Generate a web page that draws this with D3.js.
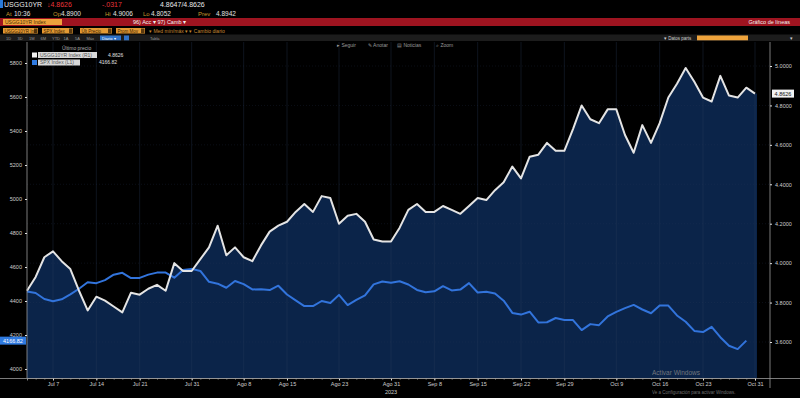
<!DOCTYPE html>
<html>
<head>
<meta charset="utf-8">
<script src="https://cdn.jsdelivr.net/npm/d3@7"></script>
<style>
  html, body { margin: 0; padding: 0; background: #000; }
  svg { display: block; font-family: "Liberation Sans", Arial, sans-serif; }
</style>
</head>
<body>
<div id="chart"></div>
<script>
// trading days, Jul 3 - Oct 31 2023
var dates = [
  "2023-07-03","2023-07-05","2023-07-06","2023-07-07","2023-07-10","2023-07-11","2023-07-12","2023-07-13","2023-07-14",
  "2023-07-17","2023-07-18","2023-07-19","2023-07-20","2023-07-21","2023-07-24","2023-07-25","2023-07-26","2023-07-27",
  "2023-07-28","2023-07-31",
  "2023-08-01","2023-08-02","2023-08-03","2023-08-04","2023-08-07","2023-08-08","2023-08-09","2023-08-10","2023-08-11",
  "2023-08-14","2023-08-15","2023-08-16","2023-08-17","2023-08-18","2023-08-21","2023-08-22","2023-08-23","2023-08-24",
  "2023-08-25","2023-08-28","2023-08-29","2023-08-30","2023-08-31",
  "2023-09-01","2023-09-05","2023-09-06","2023-09-07","2023-09-08","2023-09-11","2023-09-12","2023-09-13","2023-09-14",
  "2023-09-15","2023-09-18","2023-09-19","2023-09-20","2023-09-21","2023-09-22","2023-09-25","2023-09-26","2023-09-27",
  "2023-09-28","2023-09-29",
  "2023-10-02","2023-10-03","2023-10-04","2023-10-05","2023-10-06","2023-10-09","2023-10-10","2023-10-11","2023-10-12",
  "2023-10-13","2023-10-16","2023-10-17","2023-10-18","2023-10-19","2023-10-20","2023-10-23","2023-10-24","2023-10-25",
  "2023-10-26","2023-10-27","2023-10-30","2023-10-31"
];

// USGG10YR Index (right axis)
var yld = [
  3.86, 3.93, 4.03, 4.06, 4.01, 3.97, 3.86, 3.76, 3.83, 3.81, 3.78, 3.75, 3.85, 3.84, 3.87, 3.89, 3.86, 4.00, 3.96, 3.96,
  4.02, 4.08, 4.19, 4.04, 4.08, 4.03, 4.01, 4.09, 4.16, 4.19, 4.21, 4.26, 4.30, 4.26, 4.34, 4.33, 4.20, 4.24, 4.25, 4.21, 4.12, 4.11, 4.11,
  4.18, 4.27, 4.30, 4.26, 4.26, 4.29, 4.27, 4.25, 4.29, 4.33, 4.32, 4.37, 4.41, 4.49, 4.43, 4.54, 4.55, 4.61, 4.57, 4.57,
  4.68, 4.80, 4.73, 4.71, 4.78, 4.78, 4.65, 4.56, 4.70, 4.61, 4.71, 4.84, 4.91, 4.99, 4.92, 4.84, 4.82, 4.95, 4.85, 4.84, 4.89, 4.86
];

// SPX Index (left axis), no value yet for the last day
var spx = [
  4456, 4447, 4412, 4399, 4410, 4439, 4472, 4510, 4505, 4523, 4555, 4566, 4535, 4536, 4555, 4567, 4567, 4537, 4582, 4589,
  4577, 4513, 4502, 4478, 4518, 4499, 4468, 4469, 4464, 4490, 4438, 4404, 4370, 4370, 4400, 4388, 4436, 4376, 4406, 4433, 4498, 4515, 4508,
  4516, 4497, 4465, 4451, 4457, 4487, 4462, 4467, 4505, 4450, 4454, 4444, 4402, 4330, 4320, 4337, 4274, 4275, 4300, 4288,
  4288, 4229, 4264, 4258, 4309, 4336, 4358, 4377, 4350, 4328, 4374, 4373, 4315, 4278, 4224, 4217, 4248, 4187, 4137, 4117, 4167
];

var tickDates = ["2023-07-07","2023-07-14","2023-07-21","2023-07-31","2023-08-08","2023-08-15","2023-08-23","2023-08-31",
  "2023-09-08","2023-09-15","2023-09-22","2023-09-29","2023-10-09","2023-10-16","2023-10-23","2023-10-31"];
var tickLabels = ["Jul 7","Jul 14","Jul 21","Jul 31","Ago 8","Ago 15","Ago 23","Ago 31",
  "Sep 8","Sep 15","Sep 22","Sep 29","Oct 9","Oct 16","Oct 23","Oct 31"];
var rightTicks = [3.6, 3.8, 4.0, 4.2, 4.4, 4.6, 4.8, 5.0];
var leftTicks = [4000, 4200, 4400, 4600, 4800, 5000, 5200, 5400, 5600, 5800];

var W = 800, H = 398;
var plotTop = 42, plotBottom = 378, plotLeft = 27, plotRight = 757, rAxisX = 770;

var svg = d3.select('#chart').append('svg')
  .attr('width', W).attr('height', H);
svg.append('rect').attr('width', W).attr('height', H).attr('fill', '#000');

var x = d3.scalePoint().domain(dates).range([27, 755]);
var yR = d3.scaleLinear().domain([3.6, 5.0]).range([342, 66]);
var yL = d3.scaleLinear().domain([4000, 5800]).range([369, 63]);

// ---------- header ----------
var hdr = svg.append('g').attr('font-size', 7);
hdr.append('rect').attr('x', 0).attr('y', 0).attr('width', 3).attr('height', 8).attr('fill', '#2a7ad8');
hdr.append('text').attr('x', 4).attr('y', 7).attr('fill', '#e8e8e8').text('USGG10YR');
hdr.append('text').attr('x', 47).attr('y', 7).attr('fill', '#e8343a').text('↓4.8626');
hdr.append('text').attr('x', 102).attr('y', 7).attr('fill', '#e8343a').text('-.0317');
hdr.append('text').attr('x', 160).attr('y', 7).attr('fill', '#e8e8e8').text('4.8647/4.8626');

var row2 = [["At", 6, "10:36", 14], ["Op", 53, "4.8900", 61], ["Hi", 105, "4.9006", 113], ["Lo", 143, "4.8052", 151], ["Prev", 198, "4.8942", 216]];
row2.forEach(function(r) {
  hdr.append('text').attr('x', r[1]).attr('y', 15.5).attr('font-size', 6).attr('fill', '#c8962c').text(r[0]);
  hdr.append('text').attr('x', r[3]).attr('y', 15.5).attr('font-size', 6.5).attr('fill', '#e0e0e0').text(r[2]);
});

hdr.append('rect').attr('x', 0).attr('y', 18).attr('width', W).attr('height', 8).attr('fill', '#9e1420');
hdr.append('rect').attr('x', 3).attr('y', 19).attr('width', 59).attr('height', 6).attr('fill', '#eea33c');
hdr.append('text').attr('x', 5).attr('y', 24).attr('font-size', 5).attr('fill', '#4a2a00').text('USGG10YR Index');
hdr.append('text').attr('x', 133).attr('y', 24).attr('font-size', 5.5).attr('fill', '#f2f2f2').text('96) Acc ▾   97) Camb ▾');
hdr.append('text').attr('x', 790).attr('y', 24).attr('font-size', 5.5).attr('fill', '#f2f2f2')
  .attr('text-anchor', 'end').text('Gráfico de líneas');

var boxes = [[3, 35, "USGG10YR Ind"], [42, 31, "SPX Index"], [80, 32, "Últ Precio"], [116, 29, "Prom Mov"]];
boxes.forEach(function(b) {
  hdr.append('rect').attr('x', b[0]).attr('y', 28).attr('width', b[1]).attr('height', 5.5).attr('fill', '#e49a34');
  hdr.append('rect').attr('x', b[0] + b[1] - 4).attr('y', 28.5).attr('width', 3.5).attr('height', 4.5).attr('fill', '#5a3a10');
  hdr.append('text').attr('x', b[0] + 1.5).attr('y', 32.6).attr('font-size', 4.5).attr('fill', '#3a2000').text(b[2]);
});
hdr.append('text').attr('x', 149).attr('y', 32.6).attr('font-size', 5).attr('fill', '#c88a34').text('▾ Med mín/máx ▾   ▾ Cambio diario');

hdr.append('rect').attr('x', 0).attr('y', 34.5).attr('width', W).attr('height', 6.5).attr('fill', '#1c1c1c');
var btns = ["1D", "3D", "1M", "6M", "YTD", "1A", "5A", "Máx"];
btns.forEach(function(t, i) {
  hdr.append('text').attr('x', 6 + i * 11.5).attr('y', 39.6).attr('font-size', 4).attr('fill', '#9a9a9a').text(t);
});
hdr.append('rect').attr('x', 100).attr('y', 35.5).attr('width', 21).attr('height', 4.8).attr('fill', '#2f72c8');
hdr.append('text').attr('x', 102).attr('y', 39.6).attr('font-size', 4).attr('fill', '#fff').text('Diario ▾');
hdr.append('rect').attr('x', 124).attr('y', 35.5).attr('width', 5).attr('height', 4.8).attr('fill', '#2f72c8');
hdr.append('text').attr('x', 150).attr('y', 39.6).attr('font-size', 4).attr('fill', '#9a9a9a').text('Tabla');
hdr.append('text').attr('x', 664).attr('y', 39.6).attr('font-size', 4.5).attr('fill', '#cfcfcf').text('▾ Datos parts');
hdr.append('rect').attr('x', 697).attr('y', 35.5).attr('width', 51).attr('height', 4.8).attr('fill', '#eea33c');
hdr.append('text').attr('x', 790).attr('y', 39.6).attr('font-size', 4.5).attr('fill', '#cfcfcf').text('▾');

// ---------- plot ----------
var plot = svg.append('g');

// filled area under the yield line
var area = d3.area()
  .x(function(d, i) { return x(dates[i]); })
  .y0(plotBottom)
  .y1(function(d) { return yR(d); });
plot.append('path').datum(yld).attr('d', area).attr('fill', '#0b2449');
plot.append('rect').attr('x', 755).attr('y', yR(yld[yld.length - 1])).attr('width', 2)
  .attr('height', plotBottom - yR(yld[yld.length - 1])).attr('fill', '#0b2449');

// grid
plot.selectAll('.vgrid').data(tickDates).enter().append('line')
  .attr('x1', function(d) { return x(d); }).attr('x2', function(d) { return x(d); })
  .attr('y1', plotTop).attr('y2', plotBottom)
  .attr('stroke', '#2a3c5c').attr('stroke-opacity', 0.55).attr('stroke-width', 0.6);
plot.selectAll('.hgrid').data(rightTicks).enter().append('line')
  .attr('x1', plotLeft).attr('x2', rAxisX)
  .attr('y1', function(d) { return yR(d); }).attr('y2', function(d) { return yR(d); })
  .attr('stroke', '#2a3c5c').attr('stroke-opacity', 0.5).attr('stroke-width', 0.5)
  .attr('stroke-dasharray', '1,2');

// lines
var lineR = d3.line().x(function(d, i) { return x(dates[i]); }).y(function(d) { return yR(d); });
var lineL = d3.line().x(function(d, i) { return x(dates[i]); }).y(function(d) { return yL(d); });
plot.append('path').datum(spx).attr('d', lineL).attr('fill', 'none')
  .attr('stroke', '#3274dc').attr('stroke-width', 2).attr('stroke-linejoin', 'round');
plot.append('path').datum(yld).attr('d', lineR).attr('fill', 'none')
  .attr('stroke', '#e4e4e4').attr('stroke-width', 2).attr('stroke-linejoin', 'round');

// ---------- axes ----------
function styleAxis(g) {
  g.select('.domain').attr('stroke', '#9a9a9a').attr('stroke-width', 0.8);
  g.selectAll('.tick line').attr('stroke', '#e0e0e0');
  g.selectAll('.tick text').attr('fill', '#cfcfcf').attr('font-size', 5.5)
    .attr('font-family', '"Liberation Sans", Arial, sans-serif');
}

var xAxisMinor = svg.append('g').attr('transform', 'translate(0,' + plotBottom + ')')
  .call(d3.axisBottom(x).tickValues(dates).tickSize(1.5).tickFormat(''));
xAxisMinor.select('.domain').remove();
xAxisMinor.selectAll('.tick line').attr('stroke', '#8a8a8a');

var xAxis = svg.append('g').attr('transform', 'translate(0,' + plotBottom + ')')
  .call(d3.axisBottom(x).tickValues(tickDates).tickSize(2.5).tickPadding(2)
    .tickFormat(function(d) { return tickLabels[tickDates.indexOf(d)]; }));
styleAxis(xAxis);
svg.append('line').attr('x1', 0).attr('x2', 800).attr('y1', plotBottom + 0.5).attr('y2', plotBottom + 0.5)
  .attr('stroke', '#9a9a9a').attr('stroke-width', 0.8);
svg.append('text').attr('x', x("2023-08-31")).attr('y', 394).attr('text-anchor', 'middle')
  .attr('font-size', 5.5).attr('fill', '#cfcfcf').text('2023');

var lAxis = svg.append('g').attr('transform', 'translate(' + plotLeft + ',0)')
  .call(d3.axisLeft(yL).tickValues(leftTicks).tickSize(2).tickPadding(3).tickFormat(d3.format('d')));
styleAxis(lAxis);
lAxis.select('.domain').attr('d', 'M0,' + plotTop + 'V' + plotBottom);

var rAxis = svg.append('g').attr('transform', 'translate(' + rAxisX + ',0)')
  .call(d3.axisRight(yR).tickValues(rightTicks).tickSize(2).tickPadding(3).tickFormat(d3.format('.4f')));
styleAxis(rAxis);
rAxis.select('.domain').attr('d', 'M0,' + plotTop + 'V' + (plotBottom + 10));

// current value tags
var lastY = yld[yld.length - 1], lastS = spx[spx.length - 1];
svg.append('rect').attr('x', 772).attr('y', yR(lastY) - 4).attr('width', 22).attr('height', 8)
  .attr('fill', '#f2f2f2');
svg.append('text').attr('x', 783).attr('y', yR(lastY) + 2).attr('text-anchor', 'middle')
  .attr('font-size', 5.5).attr('fill', '#111').text(d3.format('.4f')(4.8626));
svg.append('rect').attr('x', 0).attr('y', yL(4166.82) - 4).attr('width', 26).attr('height', 8)
  .attr('fill', '#2f7ae0');
svg.append('text').attr('x', 13).attr('y', yL(4166.82) + 2).attr('text-anchor', 'middle')
  .attr('font-size', 5.5).attr('fill', '#fff').text('4166.82');

// ---------- toolbar + legend ----------
var tools = [["▸ Seguir", 337], ["✎ Anotar", 368], ["▤ Noticias", 397], ["⌕ Zoom", 436]];
tools.forEach(function(t) {
  svg.append('text').attr('x', t[1]).attr('y', 47).attr('font-size', 5).attr('fill', '#9a9a9a').text(t[0]);
});

var leg = svg.append('g').attr('font-size', 5);
leg.append('text').attr('x', 62).attr('y', 50).attr('fill', '#b0b0b0').text('Último precio');
leg.append('rect').attr('x', 32).attr('y', 52.5).attr('width', 5).attr('height', 5).attr('fill', '#f0f0f0');
leg.append('rect').attr('x', 38).attr('y', 52).attr('width', 59).attr('height', 6).attr('fill', '#d8d8d8');
leg.append('text').attr('x', 40).attr('y', 56.8).attr('fill', '#555').text('USGG10YR Index (R1)');
leg.append('text').attr('x', 108).attr('y', 56.8).attr('fill', '#e0e0e0').text('4.8626');
leg.append('rect').attr('x', 32).attr('y', 60).attr('width', 5).attr('height', 5).attr('fill', '#2f7ae0');
leg.append('rect').attr('x', 38).attr('y', 59.5).attr('width', 42).attr('height', 6).attr('fill', '#d8d8d8');
leg.append('text').attr('x', 40).attr('y', 64.3).attr('fill', '#555').text('SPX Index (L1)');
leg.append('text').attr('x', 99).attr('y', 64.3).attr('fill', '#e0e0e0').text('4166.82');

// OS watermark (kept clear of the date labels)
svg.append('text').attr('x', 652).attr('y', 375).attr('font-size', 6.5).attr('fill', '#8a8a8a')
  .attr('opacity', 0.8).text('Activar Windows');
svg.append('text').attr('x', 652).attr('y', 394).attr('font-size', 4.5).attr('fill', '#8a8a8a')
  .attr('opacity', 0.8).text('Ve a Configuración para activar Windows.');
</script>
</body>
</html>
